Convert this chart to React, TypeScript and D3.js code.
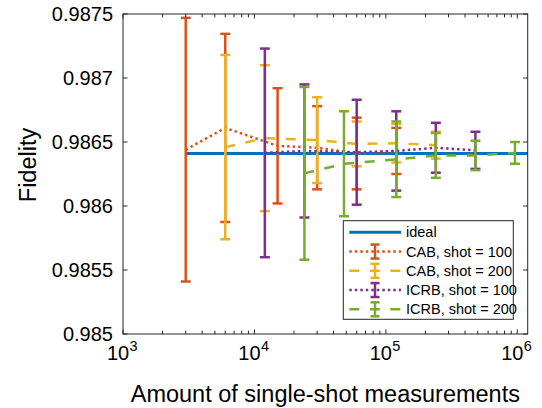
import React from "react";
import * as d3 from "d3";

const W = 542;
const H = 408;

// ideal reference line
const idealX = [3000, 1.2e6];
const idealFidelity = 0.98641;

// CAB, shot = 100
const cab100X = [3000, 6000, 15000, 30000, 60000, 120000];
const cab100Mean = [0.98644, 0.98661, 0.98647, 0.986455, 0.98641, 0.98643];
const cab100Err = [0.00103, 0.000735, 0.00045, 0.000325, 0.00028, 0.00018];

// CAB, shot = 200
const cab200X = [6000, 12000, 30000, 60000, 120000, 240000];
const cab200Mean = [0.98646, 0.98653, 0.986515, 0.986485, 0.98649, 0.986475];
const cab200Err = [0.00072, 0.00057, 0.000335, 0.000175, 0.00015, 0.000105];

// ICRB, shot = 100
const icrb100X = [12000, 24000, 60000, 120000, 240000, 480000];
const icrb100Mean = [0.986415, 0.98643, 0.98642, 0.98643, 0.986455, 0.986435];
const icrb100Err = [0.000815, 0.00052, 0.00041, 0.00031, 0.000195, 0.000145];

// ICRB, shot = 200
const icrb200X = [24000, 48000, 120000, 240000, 480000, 960000];
const icrb200Mean = [0.986255, 0.98633, 0.986365, 0.986395, 0.986395, 0.986415];
const icrb200Err = [0.000675, 0.00041, 0.000295, 0.000175, 0.000115, 0.000085];

const yTicks = [0.985, 0.9855, 0.986, 0.9865, 0.987, 0.9875];
const yTickLabels = ["0.985", "0.9855", "0.986", "0.9865", "0.987", "0.9875"];
const xExponents = [3, 4, 5, 6];

const AXIS = "#262626";
const FONT = "Liberation Sans, Arial, Helvetica, sans-serif";

const series = [
  { name: "CAB, shot = 100", x: cab100X, y: cab100Mean, err: cab100Err, color: "#D95319", dash: "2.5 3" },
  { name: "CAB, shot = 200", x: cab200X, y: cab200Mean, err: cab200Err, color: "#EDB120", dash: "10 10.5" },
  { name: "ICRB, shot = 100", x: icrb100X, y: icrb100Mean, err: icrb100Err, color: "#7E2F8E", dash: "2.5 3" },
  { name: "ICRB, shot = 200", x: icrb200X, y: icrb200Mean, err: icrb200Err, color: "#77AC30", dash: "10 10.5" },
];

export default function App() {
  const left = 123;
  const right = 527.7;
  const top = 14;
  const bottom = 334;

  const x = d3.scaleLog().domain([1e3, 1.2e6]).range([left, right]);
  const y = d3.scaleLinear().domain([0.985, 0.9875]).range([bottom, top]);

  const capW = 5;
  const tickLen = 4.5;

  // minor ticks 2..9 per decade inside the domain
  const minorTicks: number[] = [];
  for (let e = 3; e <= 6; e++) {
    for (let k = 2; k <= 9; k++) {
      const v = k * Math.pow(10, e);
      if (v < 1.2e6) minorTicks.push(v);
    }
  }

  // legend geometry
  const lg = { x0: 343.3, y0: 220.7, x1: 513.3, y1: 319.3 };
  const rowY = (i: number) => 232.3 + i * 19.25;

  return (
    <svg
      width={W}
      height={H}
      style={{ position: "fixed", left: 0, top: 0, background: "white" }}
      fontFamily={FONT}
    >
      <rect width={W} height={H} fill="white" />

      {/* ideal */}
      <line
        x1={x(idealX[0])}
        x2={x(idealX[1])}
        y1={y(idealFidelity)}
        y2={y(idealFidelity)}
        stroke="#0072BD"
        strokeWidth={3}
      />

      {series.map((s) => {
        const pts: [number, number][] = s.x.map((v, i) => [x(v), y(s.y[i])]);
        const path = d3.line()(pts) || "";
        return (
          <g key={s.name}>
            <path d={path} fill="none" stroke={s.color} strokeWidth={2.5} strokeDasharray={s.dash} />
            {s.x.map((v, i) => {
              const cx = x(v);
              const yt = y(s.y[i] + s.err[i]);
              const yb = y(s.y[i] - s.err[i]);
              return (
                <g key={i} stroke={s.color} strokeWidth={2.5}>
                  <line x1={cx} x2={cx} y1={yt} y2={yb} />
                  <line x1={cx - capW} x2={cx + capW} y1={yt} y2={yt} />
                  <line x1={cx - capW} x2={cx + capW} y1={yb} y2={yb} />
                </g>
              );
            })}
          </g>
        );
      })}

      {/* axes box */}
      <rect x={left} y={top} width={right - left} height={bottom - top} fill="none" stroke={AXIS} strokeWidth={1} />

      {/* y ticks */}
      {yTicks.map((t, i) => (
        <g key={t}>
          <line x1={left} x2={left + tickLen} y1={y(t)} y2={y(t)} stroke={AXIS} />
          <line x1={right} x2={right - tickLen} y1={y(t)} y2={y(t)} stroke={AXIS} />
          <text x={left - 10} y={y(t) + 7} fontSize={20} textAnchor="end" fill="#000">
            {yTickLabels[i]}
          </text>
        </g>
      ))}

      {/* x ticks */}
      {minorTicks.map((t) => (
        <g key={t}>
          <line x1={x(t)} x2={x(t)} y1={bottom} y2={bottom - tickLen * 0.75} stroke={AXIS} />
          <line x1={x(t)} x2={x(t)} y1={top} y2={top + tickLen * 0.75} stroke={AXIS} />
        </g>
      ))}
      {xExponents.map((e) => {
        const px = x(Math.pow(10, e));
        return (
          <g key={e}>
            <line x1={px} x2={px} y1={bottom} y2={bottom - tickLen} stroke={AXIS} />
            <line x1={px} x2={px} y1={top} y2={top + tickLen} stroke={AXIS} />
            <text x={px - 5} y={360} fontSize={20} textAnchor="middle" fill="#000">
              10
            </text>
            <text x={px + 6.5} y={351} fontSize={14.5} textAnchor="start" fill="#000">
              {e}
            </text>
          </g>
        );
      })}

      {/* axis labels */}
      <text x={(left + right) / 2} y={401.5} fontSize={23.5} textAnchor="middle" fill="#000">
        Amount of single-shot measurements
      </text>
      <text transform={`translate(35.5, 165) rotate(-90)`} fontSize={23.5} textAnchor="middle" fill="#000">
        Fidelity
      </text>

      {/* legend */}
      <rect x={lg.x0} y={lg.y0} width={lg.x1 - lg.x0} height={lg.y1 - lg.y0} fill="white" stroke={AXIS} strokeWidth={1} />
      <line x1={349.3} x2={401} y1={rowY(0)} y2={rowY(0)} stroke="#0072BD" strokeWidth={3} />
      <text x={406} y={rowY(0) + 5} fontSize={14.5} fill="#000">
        ideal
      </text>
      {series.map((s, i) => {
        const ry = rowY(i + 1);
        const gx = 375;
        return (
          <g key={s.name}>
            <line x1={349.3} x2={401} y1={ry} y2={ry} stroke={s.color} strokeWidth={2.5} strokeDasharray={s.dash} />
            <g stroke={s.color} strokeWidth={2.5}>
              <line x1={gx} x2={gx} y1={ry - 7} y2={ry + 7} />
              <line x1={gx - 4.5} x2={gx + 4.5} y1={ry - 7} y2={ry - 7} />
              <line x1={gx - 4.5} x2={gx + 4.5} y1={ry + 7} y2={ry + 7} />
            </g>
            <text x={406} y={ry + 5} fontSize={14.5} fill="#000">
              {s.name}
            </text>
          </g>
        );
      })}
    </svg>
  );
}
